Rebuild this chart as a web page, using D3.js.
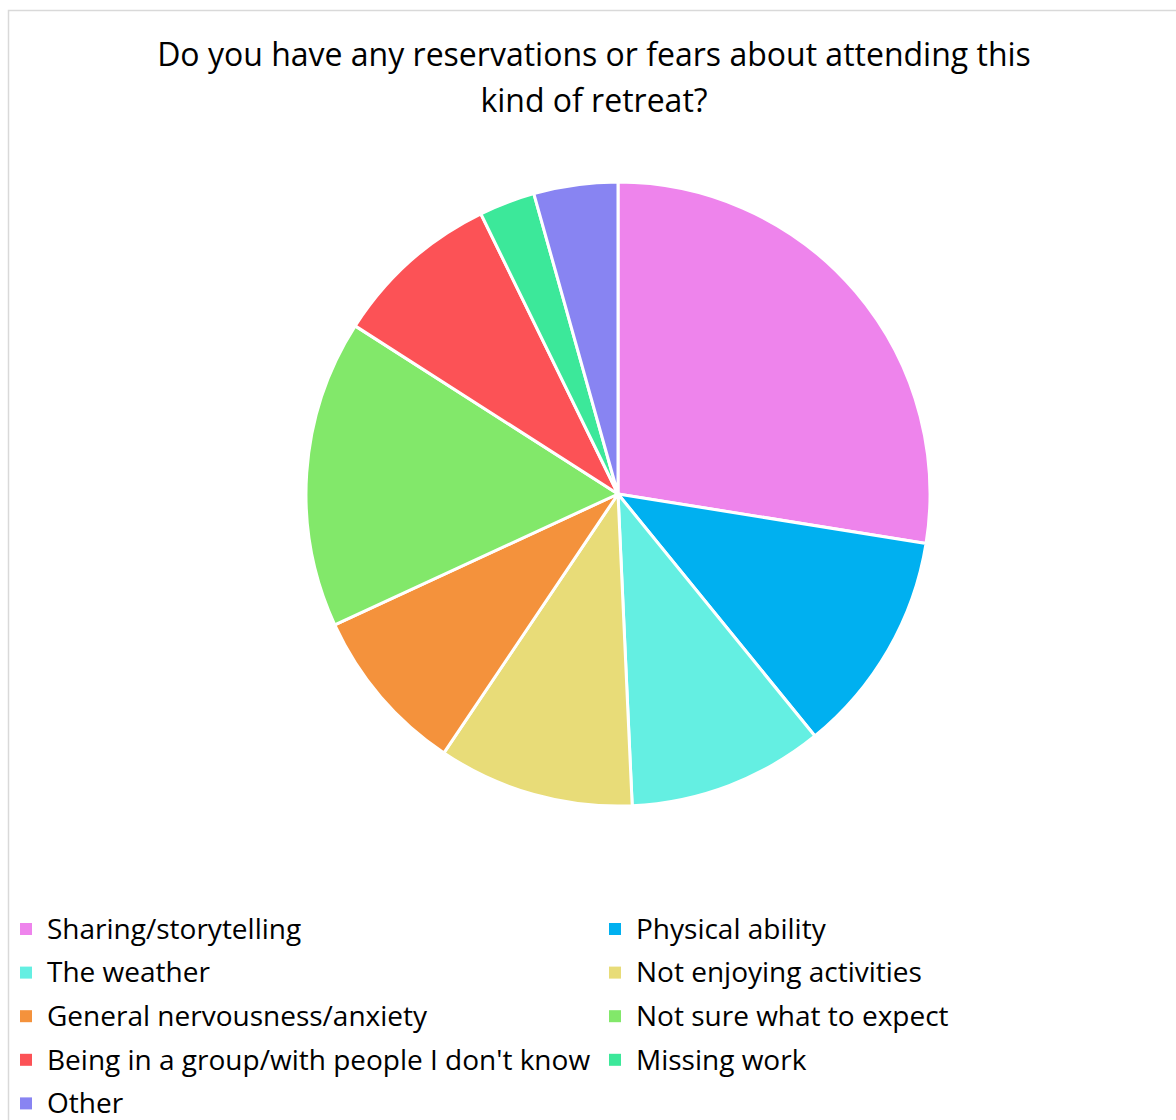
<!DOCTYPE html>
<html>
<head>
<meta charset="utf-8">
<script src="https://cdn.jsdelivr.net/npm/d3@7"></script>
<style>
  html, body { margin: 0; padding: 0; background: #ffffff; }
  svg { display: block; }
  text { font-family: "Open Sans", "Noto Sans", sans-serif; fill: #000; }
</style>
</head>
<body>
<svg id="chart" width="1176" height="1120"></svg>
<script>
// Survey answers, one slice per category
const categories = [
  "Sharing/storytelling",
  "Physical ability",
  "The weather",
  "Not enjoying activities",
  "General nervousness/anxiety",
  "Not sure what to expect",
  "Being in a group/with people I don't know",
  "Missing work",
  "Other"
];
const counts = [19, 8, 7, 7, 6, 11, 6, 2, 3];
const colors = ["#EE84EC", "#00B0F0", "#64EFE2", "#E8DC78", "#F4923C", "#82E86A", "#FC5256", "#3CE89A", "#8884F2"];
const titleLines = ["Do you have any reservations or fears about attending this", "kind of retreat?"];

const svg = d3.select("#chart");

// Chart frame
svg.append("rect")
  .attr("x", 8.5).attr("y", 10.5)
  .attr("width", 1180).attr("height", 1130)
  .attr("fill", "#fff")
  .attr("stroke", "#d9d9d9")
  .attr("stroke-width", 1.5);

// Title
svg.append("g").selectAll("text")
  .data(titleLines)
  .join("text")
  .attr("x", 594)
  .attr("y", (d, i) => 66 + i * 46)
  .attr("text-anchor", "middle")
  .attr("font-size", 32)
  .text(d => d);

// Pie
const data = categories.map((c, i) => ({ name: c, value: counts[i], color: colors[i] }));
const pie = d3.pie().value(d => d.value).sort(null);
const arc = d3.arc().innerRadius(0).outerRadius(312);
const color = d3.scaleOrdinal().domain(categories).range(colors);

svg.append("g")
  .attr("transform", "translate(618,494)")
  .selectAll("path")
  .data(pie(data))
  .join("path")
  .attr("d", arc)
  .attr("fill", d => color(d.data.name))
  .attr("stroke", "#fff")
  .attr("stroke-width", 3)
  .attr("stroke-linejoin", "round");

// Legend, two columns
const legend = svg.append("g");
const items = legend.selectAll("g")
  .data(data)
  .join("g")
  .attr("transform", (d, i) => {
    const col = i % 2, row = Math.floor(i / 2);
    return `translate(${col === 0 ? 20 : 609},${929 + row * 43.6})`;
  });
items.append("rect")
  .attr("x", 0).attr("y", -6)
  .attr("width", 12).attr("height", 12)
  .attr("fill", d => color(d.name));
items.append("text")
  .attr("x", 27)
  .attr("y", 0)
  .attr("dy", "0.35em")
  .attr("font-size", 28)
  .text(d => d.name);
</script>
</body>
</html>
